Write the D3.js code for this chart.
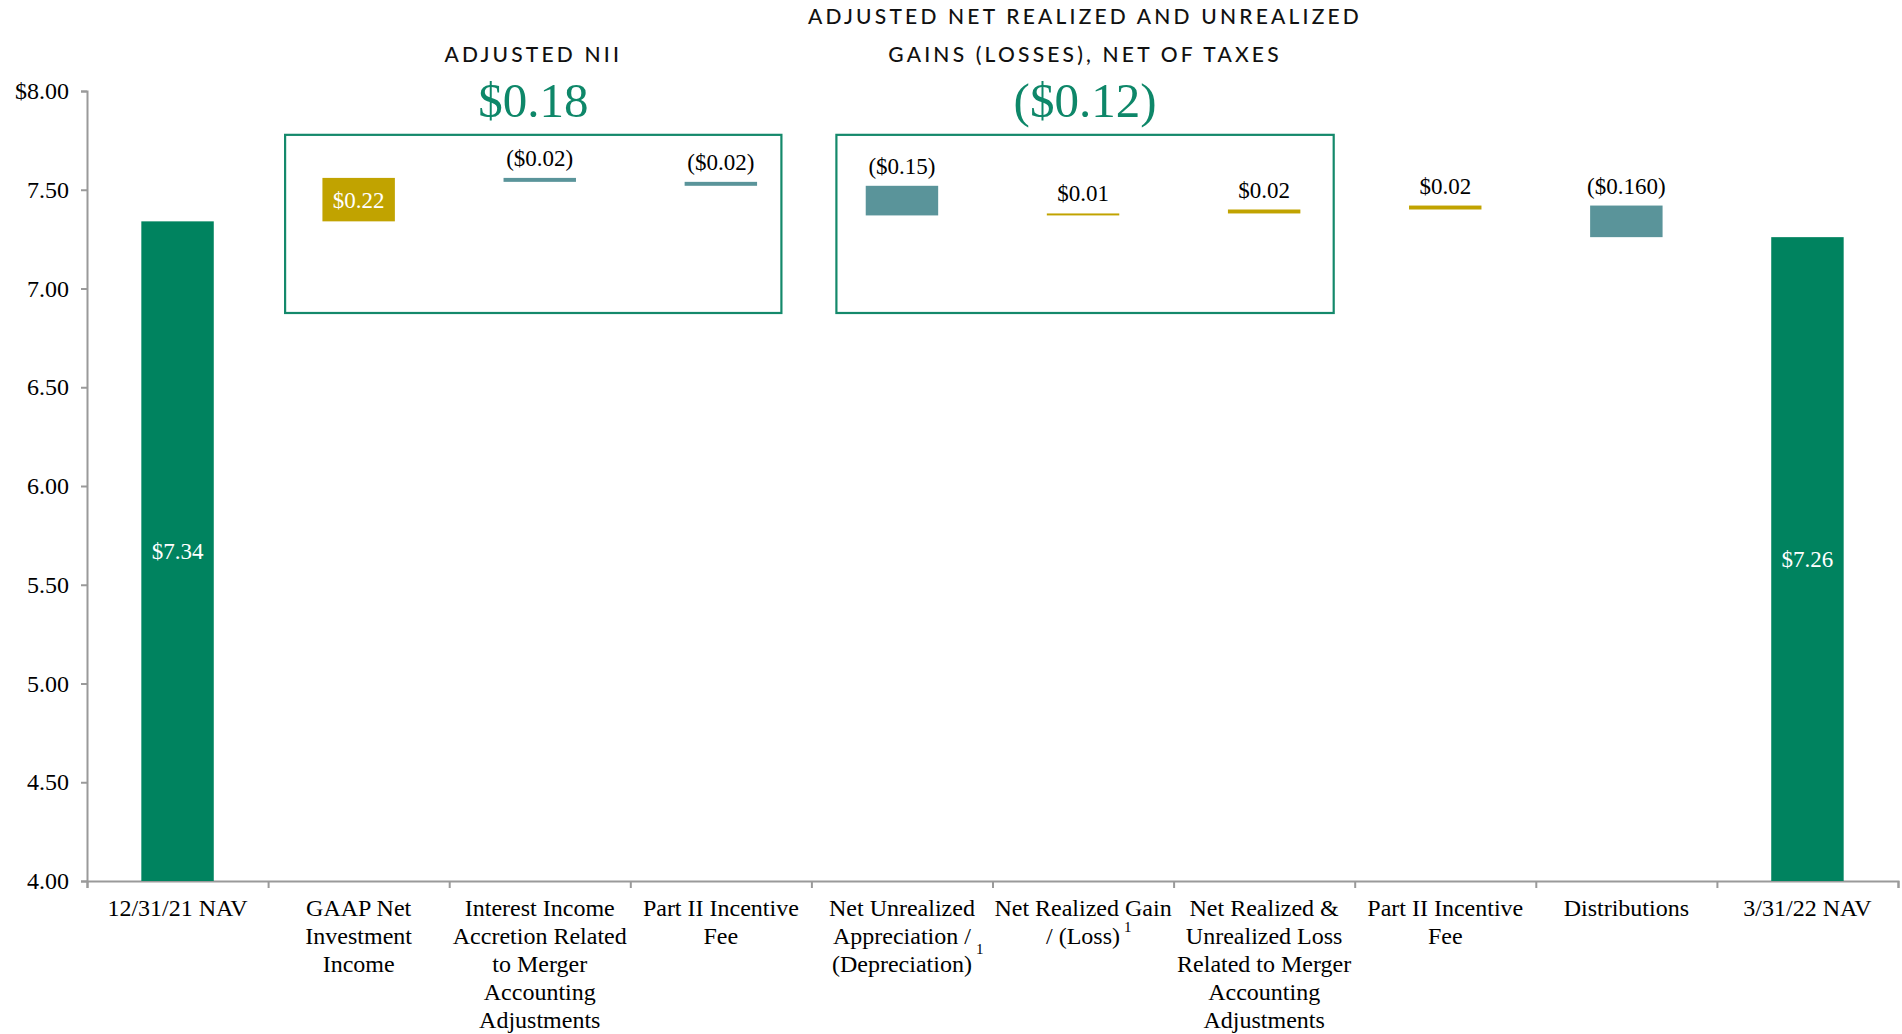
<!DOCTYPE html>
<html><head><meta charset="utf-8">
<script src="https://cdn.jsdelivr.net/npm/d3@7"></script>
<style>
html,body{margin:0;padding:0;background:#fff;}
svg{display:block;}
.serif{font-family:"Liberation Serif","Times New Roman",serif;}
.sans{font-family:Lato,"Open Sans",sans-serif;}
</style></head>
<body>
<svg id="chart" width="1902" height="1034"></svg>
<script>
// ---------------- data ----------------
const categories = [
  ["12/31/21 NAV"],
  ["GAAP Net", "Investment", "Income"],
  ["Interest Income", "Accretion Related", "to Merger", "Accounting", "Adjustments"],
  ["Part II Incentive", "Fee"],
  ["Net Unrealized", "Appreciation /", "(Depreciation)"],
  ["Net Realized Gain", "/ (Loss)"],
  ["Net Realized &", "Unrealized Loss", "Related to Merger", "Accounting", "Adjustments"],
  ["Part II Incentive", "Fee"],
  ["Distributions"],
  ["3/31/22 NAV"]
];
const footnoteMarks = [null, null, null, null, "1", "1", null, null, null, null];
const startNAV = 7.34;
const endNAV = 7.26;
const changes = [0.22, -0.02, -0.02, -0.15, 0.01, 0.02, 0.02, -0.16];
const valueLabels = ["$7.34", "$0.22", "($0.02)", "($0.02)", "($0.15)", "$0.01", "$0.02", "$0.02", "($0.160)", "$7.26"];
const yTicks = [4.0, 4.5, 5.0, 5.5, 6.0, 6.5, 7.0, 7.5, 8.0];
const yTickLabels = ["4.00", "4.50", "5.00", "5.50", "6.00", "6.50", "7.00", "7.50", "$8.00"];
const groupTitles = [["ADJUSTED NII"], ["ADJUSTED NET REALIZED AND UNREALIZED", "GAINS (LOSSES), NET OF TAXES"]];
const groupTotals = ["$0.18", "($0.12)"];
const groupFirst = [1, 4];
const groupLast = [3, 6];

// ---------------- build waterfall ----------------
const colNAV = "#00835f", colPos = "#c1a300", colNeg = "#5a949a", colBox = "#14896b";
const bars = [];
bars.push({i: 0, y0: 4, y1: startNAV, kind: "nav"});
let run = startNAV;
changes.forEach((c, k) => {
  const nxt = Math.round((run + c) * 1000) / 1000;
  bars.push({i: k + 1, y0: Math.min(run, nxt), y1: Math.max(run, nxt), kind: c >= 0 ? "pos" : "neg"});
  run = nxt;
});
bars.push({i: categories.length - 1, y0: 4, y1: endNAV, kind: "nav"});

const svg = d3.select("#chart");
const xL = 87, xR = 1898, yTop = 91, yBot = 881;

const x = d3.scaleBand().domain(d3.range(categories.length)).range([xL, xR]).paddingInner(0.6).paddingOuter(0.3);
const xb = d3.scaleLinear().domain([0, categories.length]).range([xL, xR]);
const y = d3.scaleLinear().domain([4, 8]).range([yBot, yTop]);

// y axis
const ya = svg.append("g").attr("transform", `translate(${xL},0)`)
  .call(d3.axisLeft(y).tickValues(yTicks).tickSize(6).tickPadding(12)
    .tickFormat((d, i) => yTickLabels[i]));
ya.select(".domain").attr("stroke", "#9a9a9a").attr("stroke-width", 2);
ya.selectAll(".tick line").attr("stroke", "#9a9a9a").attr("stroke-width", 2);
ya.selectAll(".tick text").attr("class", "serif").attr("font-size", 24).attr("fill", "#000");

// x axis (band boundaries)
const xa = svg.append("g").attr("transform", `translate(0,${yBot})`)
  .call(d3.axisBottom(xb).tickValues(d3.range(categories.length + 1)).tickSize(7).tickFormat(""));
xa.select(".domain").attr("stroke", "#9a9a9a").attr("stroke-width", 2);
xa.selectAll(".tick line").attr("stroke", "#9a9a9a").attr("stroke-width", 2);

// boxes
const boxInsetL = [17, 25], boxInsetR = [30, 21];
groupFirst.forEach((f, g) => {
  const l = groupFirst[g], r = groupLast[g];
  const bx0 = xb(l) + boxInsetL[g], bx1 = xb(r + 1) - boxInsetR[g];
  svg.append("rect").attr("x", bx0).attr("y", y(7.778)).attr("width", bx1 - bx0)
    .attr("height", y(6.876) - y(7.778)).attr("fill", "none").attr("stroke", colBox).attr("stroke-width", 2.2);
  const cx = (bx0 + bx1) / 2;
  const lines = groupTitles[g];
  lines.forEach((t, k) => {
    svg.append("text").attr("class", "sans").attr("x", cx)
      .attr("y", 62 - (lines.length - 1 - k) * 38)
      .attr("text-anchor", "middle").attr("font-size", 21).attr("letter-spacing", "3.2px")
      .attr("font-weight", 500).attr("fill", "#111").text(t);
  });
  svg.append("text").attr("class", "serif").attr("x", cx).attr("y", 117)
    .attr("text-anchor", "middle").attr("font-size", 49).attr("fill", "#0e8769").text(groupTotals[g]);
});

// bars
svg.append("g").selectAll("rect").data(bars).join("rect")
  .attr("x", d => x(d.i)).attr("width", x.bandwidth())
  .attr("y", d => y(d.y1)).attr("height", d => y(d.y0) - y(d.y1))
  .attr("fill", d => d.kind === "nav" ? colNAV : d.kind === "pos" ? colPos : colNeg);

// value labels
svg.append("g").selectAll("text").data(bars).join("text")
  .attr("class", "serif").attr("font-size", 23).attr("text-anchor", "middle")
  .attr("x", d => x(d.i) + x.bandwidth() / 2)
  .attr("y", d => {
    if (d.kind === "nav" || d.i === 1) return (y(d.y0) + y(d.y1)) / 2 + 8;
    return y(d.y1) - 12;
  })
  .attr("fill", d => (d.kind === "nav" || d.i === 1) ? "#fff" : "#000")
  .text(d => valueLabels[d.i]);

// category labels
const cg = svg.append("g");
categories.forEach((lines, i) => {
  const cx = xb(i + 0.5);
  const t = cg.append("text").attr("class", "serif").attr("font-size", 24).attr("fill", "#000")
    .attr("text-anchor", "middle");
  lines.forEach((ln, k) => {
    t.append("tspan").attr("x", cx).attr("y", 916 + k * 28).text(ln);
  });
  if (footnoteMarks[i]) {
    const last = lines.length - 1;
    const lastNode = t.selectAll("tspan").nodes()[last];
    const lb = lastNode.getBBox();
    cg.append("text").attr("class", "serif").attr("font-size", 15).attr("fill", "#000")
      .attr("x", lb.x + lb.width + 4).attr("y", 916 + last * 28 - (i === 4 ? 18 : 12))
      .text(footnoteMarks[i]);
  }
});
</script>
</body></html>
